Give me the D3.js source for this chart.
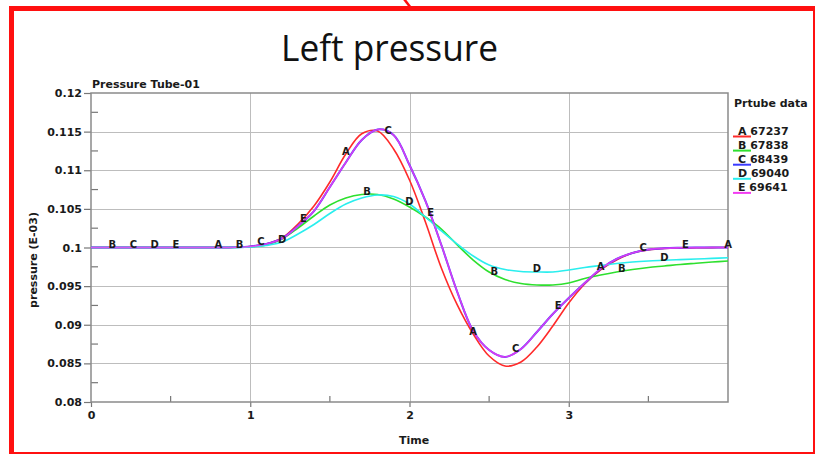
<!DOCTYPE html>
<html>
<head>
<meta charset="utf-8">
<script src="https://cdn.jsdelivr.net/npm/d3@7"></script>
<style>
  html, body { margin: 0; padding: 0; background: #ffffff; }
  svg { display: block; }
  text { font-family: "DejaVu Sans", sans-serif; font-weight: bold; fill: #1a1a1a; }
</style>
</head>
<body>
<svg id="chart" width="815" height="454"></svg>
<script>
// Sample times (s) shared by every pressure trace
const times = [0, 0.8, 0.9, 1.0, 1.1, 1.2, 1.3, 1.4, 1.5, 1.6, 1.7, 1.8, 1.9, 2.0,
  2.1, 2.2, 2.3, 2.4, 2.5, 2.6, 2.7, 2.8, 2.9, 3.0, 3.1, 3.2, 3.3, 3.4, 3.5,
  3.6, 3.7, 3.8, 3.9, 4.0];

// Pressure (E-03) per tube node
const seriesA = [0.1, 0.1, 0.10003, 0.10013, 0.10045, 0.10123, 0.10304, 0.10537, 0.10848,
  0.11210, 0.11472, 0.11508, 0.11275, 0.10874, 0.10330, 0.09735, 0.09256, 0.08880,
  0.08595, 0.08466, 0.08518, 0.08712, 0.08984, 0.09282, 0.09528, 0.09709, 0.09838,
  0.09929, 0.09968, 0.09987, 0.09994, 0.09996, 0.09999, 0.1];
const seriesB = [0.1, 0.1, 0.10001, 0.10009, 0.10032, 0.10110, 0.10252, 0.10408, 0.10550,
  0.10641, 0.10686, 0.10686, 0.10628, 0.10524, 0.10395, 0.10239, 0.10032, 0.09838,
  0.09683, 0.09586, 0.09534, 0.09515, 0.09515, 0.09540, 0.09599, 0.09644, 0.09683,
  0.09715, 0.09741, 0.09760, 0.09780, 0.09796, 0.09812, 0.09825];
const seriesC = [0.1, 0.1, 0.10003, 0.10013, 0.10045, 0.10117, 0.10278, 0.10472, 0.10783,
  0.11100, 0.11392, 0.11528, 0.11456, 0.11068, 0.10602, 0.10032, 0.09424, 0.08919,
  0.08673, 0.08583, 0.08686, 0.08906, 0.09139, 0.09346, 0.09540, 0.09722, 0.09851,
  0.09929, 0.09974, 0.09990, 0.09996, 0.09999, 0.1, 0.1];
const seriesD = [0.1, 0.1, 0.10001, 0.10006, 0.10026, 0.10071, 0.10175, 0.10298, 0.10440,
  0.10563, 0.10641, 0.10680, 0.10660, 0.10563, 0.10395, 0.10214, 0.10045, 0.09890,
  0.09773, 0.09715, 0.09689, 0.09683, 0.09683, 0.09709, 0.09741, 0.09767, 0.09793,
  0.09812, 0.09825, 0.09834, 0.09843, 0.09851, 0.09859, 0.09867];
const seriesE = [0.1, 0.1, 0.10003, 0.10013, 0.10045, 0.10117, 0.10278, 0.10472, 0.10783,
  0.11100, 0.11392, 0.11528, 0.11456, 0.11068, 0.10602, 0.10032, 0.09424, 0.08919,
  0.08673, 0.08583, 0.08686, 0.08906, 0.09139, 0.09346, 0.09540, 0.09722, 0.09851,
  0.09929, 0.09974, 0.09990, 0.09996, 0.09999, 0.1, 0.1];

const seriesLetters = ["A", "B", "C", "D", "E"];
const seriesIds = ["67237", "67838", "68439", "69040", "69641"];
const seriesColors = ["#ff2a2a", "#2ee02e", "#3a3aff", "#2aeeee", "#f23cf2"];

const yTicks = [0.08, 0.085, 0.09, 0.095, 0.1, 0.105, 0.11, 0.115, 0.12];
const yTickLabels = ["0.08", "0.085", "0.09", "0.095", "0.1", "0.105", "0.11", "0.115", "0.12"];
const yMinorTicks = [0.0825, 0.0875, 0.0925, 0.0975, 0.1025, 0.1075, 0.1125, 0.1175];
const xTicks = [0, 1, 2, 3];
const xTickLabels = ["0", "1", "2", "3"];
const xMinorTicks = [0.5, 1.5, 2.5, 3.5];

const allSeries = [seriesA, seriesB, seriesC, seriesD, seriesE];

const svg = d3.select("#chart");
const plot = { left: 91, right: 728, top: 93, bottom: 402 };

const x = d3.scaleLinear().domain([0, 4]).range([plot.left, plot.right]);
const y = d3.scaleLinear().domain([0.08, 0.12]).range([plot.bottom, plot.top]);

// Slide frame and connector
svg.append("rect")
  .attr("x", 11.5).attr("y", 8.5).attr("width", 804).attr("height", 446)
  .attr("fill", "#ffffff").attr("stroke", "#ff1010").attr("stroke-width", 5);
svg.append("line")
  .attr("x1", 404).attr("y1", -1).attr("x2", 411).attr("y2", 8)
  .attr("stroke", "#ff1010").attr("stroke-width", 2.5);

// Slide heading
svg.append("text")
  .attr("x", 281).attr("y", 61)
  .attr("textLength", 217).attr("lengthAdjust", "spacingAndGlyphs")
  .style("font-family", "'Open Sans', 'Noto Sans', sans-serif")
  .style("font-weight", "normal").style("font-size", "37px").style("fill", "#111")
  .text("Left pressure");

// Grid lines
const grid = svg.append("g").attr("stroke", "#bdbdbd").attr("stroke-width", 1);
grid.selectAll("line.h")
  .data(yTicks.filter(v => v > 0.08 && v < 0.12))
  .join("line")
  .attr("x1", plot.left).attr("x2", plot.right)
  .attr("y1", d => Math.round(y(d)) + 0.5).attr("y2", d => Math.round(y(d)) + 0.5);
grid.selectAll("line.v")
  .data(xTicks.filter(v => v > 0))
  .join("line")
  .attr("y1", plot.top).attr("y2", plot.bottom)
  .attr("x1", d => Math.round(x(d)) + 0.5).attr("x2", d => Math.round(x(d)) + 0.5);

// Y axis: outward major ticks with labels
const yAxis = d3.axisLeft(y)
  .tickValues(yTicks)
  .tickSize(7)
  .tickPadding(2)
  .tickFormat((d, i) => yTickLabels[i]);
const gy = svg.append("g").attr("transform", `translate(${plot.left},0)`).call(yAxis);
gy.select(".domain").remove();
gy.selectAll(".tick line").attr("stroke", "#777").attr("stroke-width", 1.2);
gy.selectAll(".tick text")
  .style("font-family", "'DejaVu Sans', sans-serif").style("font-weight", "bold")
  .style("font-size", "11px").attr("fill", "#1a1a1a");

// Y minor ticks drawn inward
svg.append("g").selectAll("line")
  .data(yMinorTicks).join("line")
  .attr("x1", plot.left).attr("x2", plot.left + 7)
  .attr("y1", d => y(d)).attr("y2", d => y(d))
  .attr("stroke", "#777").attr("stroke-width", 1.2);

// X axis: major ticks and labels
const xAxis = d3.axisBottom(x)
  .tickValues(xTicks)
  .tickSize(5)
  .tickPadding(4)
  .tickFormat((d, i) => xTickLabels[i]);
const gx = svg.append("g").attr("transform", `translate(0,${plot.bottom})`).call(xAxis);
gx.select(".domain").remove();
gx.selectAll(".tick line").attr("stroke", "#777").attr("stroke-width", 1.2);
gx.selectAll(".tick text")
  .style("font-family", "'DejaVu Sans', sans-serif").style("font-weight", "bold")
  .style("font-size", "11px").attr("fill", "#1a1a1a");

// X minor ticks drawn inward
svg.append("g").selectAll("line")
  .data(xMinorTicks).join("line")
  .attr("x1", d => x(d)).attr("x2", d => x(d))
  .attr("y1", plot.bottom).attr("y2", plot.bottom - 6)
  .attr("stroke", "#777").attr("stroke-width", 1.2);

// Plot frame
svg.append("rect")
  .attr("x", plot.left).attr("y", plot.top)
  .attr("width", plot.right - plot.left).attr("height", plot.bottom - plot.top)
  .attr("fill", "none").attr("stroke", "#8a8a8a").attr("stroke-width", 1.5);

// Pressure traces
const line = d3.line()
  .x((d, i) => x(times[i]))
  .y(d => y(d))
  .curve(d3.curveCatmullRom.alpha(0.5));

const traces = svg.append("g").attr("fill", "none");
allSeries.forEach((s, k) => {
  traces.append("path")
    .datum(s)
    .attr("d", line)
    .attr("stroke", seriesColors[k])
    .attr("stroke-width", k === 2 ? 2 : 1.6)
    .attr("stroke-opacity", k === 4 ? 0.85 : 1);
});

// Series letters placed along each trace every 0.8 s, staggered per series
function valueAt(s, t) {
  const i = d3.bisectRight(times, t) - 1;
  if (i >= times.length - 1) return s[s.length - 1];
  const f = (t - times[i]) / (times[i + 1] - times[i]);
  return s[i] + f * (s[i + 1] - s[i]);
}
const markers = [];
allSeries.forEach((s, k) => {
  for (let j = 0; j <= 5; j++) {
    const t = k * 0.8 / 6 + j * 0.8;
    if (t <= 0 || t > 4.0001) continue;
    markers.push({ letter: seriesLetters[k], t: Math.min(t, 4), v: valueAt(s, Math.min(t, 4)) });
  }
});
svg.append("g").selectAll("text")
  .data(markers).join("text")
  .attr("x", d => x(d.t))
  .attr("y", d => y(d.v) + 0.5)
  .attr("text-anchor", "middle")
  .style("font-size", "10px")
  .text(d => d.letter);

// Chart titles
svg.append("text").attr("x", 92).attr("y", 88)
  .style("font-size", "11px").text("Pressure Tube-01");
svg.append("text").attr("x", 414).attr("y", 444).attr("text-anchor", "middle")
  .style("font-size", "11px").text("Time");
svg.append("text")
  .attr("transform", "translate(37,260) rotate(-90)")
  .attr("text-anchor", "middle")
  .style("font-size", "11px").text("pressure (E-03)");

// Legend
svg.append("text").attr("x", 734).attr("y", 107)
  .style("font-size", "11px").text("Prtube data");
const legend = svg.append("g");
seriesLetters.forEach((L, k) => {
  const cy = 131 + k * 14.1;
  legend.append("line")
    .attr("x1", 733).attr("x2", 751)
    .attr("y1", cy + 5.5).attr("y2", cy + 5.5)
    .attr("stroke", seriesColors[k]).attr("stroke-width", 2);
  legend.append("text")
    .attr("x", 738).attr("y", cy + 4)
    .style("font-size", "11px")
    .text(L + " " + seriesIds[k]);
});
</script>
</body>
</html>
